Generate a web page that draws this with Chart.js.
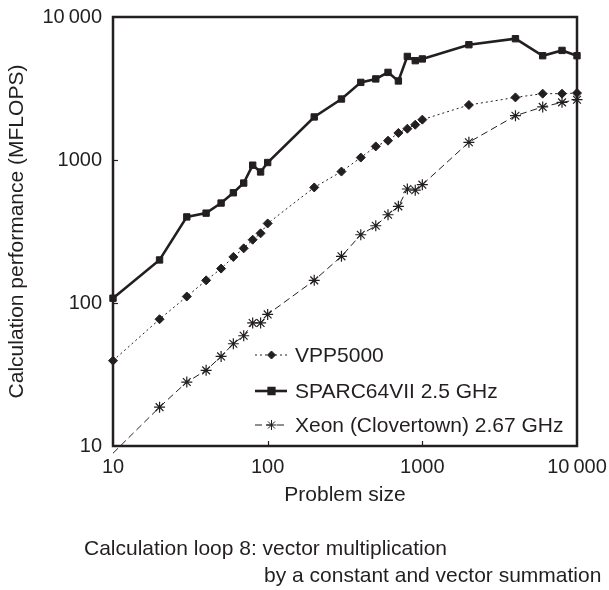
<!DOCTYPE html>
<html>
<head>
<meta charset="utf-8">
<script src="https://cdn.jsdelivr.net/npm/chart.js@4.4.1/dist/chart.umd.min.js"></script>
<style>
  html, body { margin: 0; padding: 0; background: #fff; }
  #wrap { position: relative; width: 609px; height: 590px; font-family: "Liberation Sans", Arial, sans-serif; color: #231f20; }
  #c { position: absolute; left: 0; top: 0; }
  .cap { position: absolute; font-size: 21px; line-height: 24px; white-space: nowrap; }
</style>
</head>
<body>
<div id="wrap">
  <canvas id="c" width="609" height="590"></canvas>
  <div class="cap" style="left:84px; top:536px">Calculation loop 8: vector multiplication</div>
  <div class="cap" style="left:264px; top:563px">by a constant and vector summation</div>
</div>
<script>
const problemSizes = [10, 20, 30, 40, 50, 60, 70, 80, 90, 100, 200, 300, 400, 500, 600, 700, 800, 900, 1000, 2000, 4000, 6000, 8000, 10000];
const vppValues = [39.5, 77, 111, 144, 174, 210, 241, 277, 307, 360, 643, 830, 1040, 1245, 1365, 1545, 1655, 1765, 1915, 2425, 2740, 2910, 2910, 2940];
const sparcValues = [108, 200, 400, 425, 500, 590, 690, 920, 825, 960, 2000, 2670, 3490, 3690, 4100, 3570, 5300, 4950, 5090, 6400, 7050, 5360, 5840, 5360];
const xeonValues = [8.9, 18.7, 28, 33.8, 42.3, 51.9, 59, 72.5, 72.5, 83.2, 144, 212, 300, 347, 414, 474, 627, 615, 672, 1330, 2040, 2350, 2530, 2640];
const xTicks = [10, 100, 1000, 10000];
const yTicks = [10, 100, 1000, 10000];

const ink = '#231f20';
const family = '"Liberation Sans", Arial, sans-serif';
const tickFont = { family, size: 20 };
const titleFont = { family, size: 21 };

function toPoints(values) {
  return problemSizes.map((x, i) => ({ x, y: values[i] }));
}

function fmt(v) {
  return v >= 10000 ? String(v).replace(/(\d)(\d{3})$/, '$1\u2009$2') : String(v);
}

// frame round the plot and short ticks pointing inward
const framePlugin = {
  id: 'frame',
  afterDatasetsDraw(chart) {
    const { ctx, chartArea: a, scales } = chart;
    ctx.save();
    ctx.strokeStyle = ink;
    ctx.lineWidth = 1.2;
    xTicks.slice(1, -1).forEach(v => {
      const px = Math.round(scales.x.getPixelForValue(v)) + 0.5;
      ctx.beginPath(); ctx.moveTo(px, a.bottom); ctx.lineTo(px, a.bottom - 5); ctx.stroke();
    });
    yTicks.slice(1, -1).forEach(v => {
      const py = Math.round(scales.y.getPixelForValue(v)) + 0.5;
      ctx.beginPath(); ctx.moveTo(a.left, py); ctx.lineTo(a.left + 5, py); ctx.stroke();
    });
    ctx.lineWidth = 2.5;
    ctx.strokeRect(a.left, a.top, a.right - a.left, a.bottom - a.top);
    ctx.restore();
  }
};

// legend inside the plot: line sample + marker + label
const legendPlugin = {
  id: 'innerLegend',
  afterDraw(chart) {
    const { ctx } = chart;
    const rows = [355, 391, 425];
    ctx.save();
    chart.data.datasets.forEach((ds, i) => {
      const y = rows[i];
      ctx.strokeStyle = ink;
      ctx.lineWidth = ds.borderWidth;
      ctx.setLineDash(ds.borderDash || []);
      ctx.beginPath(); ctx.moveTo(255, y); ctx.lineTo(287, y); ctx.stroke();
      ctx.setLineDash([]);
      Chart.helpers.drawPoint(ctx, {
        pointStyle: ds.pointStyle, radius: ds.legendRadius, borderWidth: 1.2
      }, 271.5, y);
      ctx.fillStyle = ink;
      ctx.font = '21px ' + family;
      ctx.textBaseline = 'middle';
      ctx.fillText(ds.label, 295, y + 1);
    });
    ctx.restore();
  }
};

const markerRadius = r => c => (c.raw && c.raw.y < 10 ? 0 : r);

new Chart(document.getElementById('c'), {
  type: 'line',
  data: {
    datasets: [
      {
        label: 'VPP5000',
        data: toPoints(vppValues),
        borderColor: ink, backgroundColor: ink,
        borderWidth: 1, borderDash: [2, 3],
        pointStyle: 'rectRot', pointRadius: 4.5, legendRadius: 4,
        pointBorderWidth: 1, clip: false
      },
      {
        label: 'SPARC64VII 2.5 GHz',
        data: toPoints(sparcValues),
        borderColor: ink, backgroundColor: ink,
        borderWidth: 2.6,
        pointStyle: 'rect', pointRadius: 4.5, legendRadius: 4,
        pointBorderWidth: 1, clip: false
      },
      {
        label: 'Xeon (Clovertown) 2.67 GHz',
        data: toPoints(xeonValues),
        borderColor: ink, backgroundColor: ink,
        borderWidth: 1, borderDash: [7, 4],
        pointStyle: 'star', pointRadius: markerRadius(5.5), legendRadius: 5,
        pointBorderWidth: 1.2, clip: false
      }
    ]
  },
  options: {
    responsive: false,
    animation: false,
    layout: { padding: { left: 0, top: 17, right: 32, bottom: 82 } },
    elements: { line: { tension: 0 } },
    plugins: { legend: { display: false }, tooltip: { enabled: false } },
    scales: {
      x: {
        type: 'logarithmic', min: 10, max: 10000,
        afterBuildTicks: s => { s.ticks = xTicks.map(value => ({ value })); },
        afterFit: s => { s.height = 62; },
        grid: { display: false },
        border: { display: false },
        ticks: { color: ink, font: tickFont, padding: 1, maxRotation: 0, autoSkip: false, callback: v => fmt(v) },
        title: { display: true, text: 'Problem size', color: ink, font: titleFont, padding: { top: 4, bottom: 0 } }
      },
      y: {
        type: 'logarithmic', min: 10, max: 10000,
        afterBuildTicks: s => { s.ticks = yTicks.map(value => ({ value })); },
        afterFit: s => { s.width = 113; },
        grid: { display: false },
        border: { display: false },
        ticks: { color: ink, font: tickFont, padding: 3, autoSkip: false, callback: v => fmt(v) },
        title: { display: true, text: 'Calculation performance (MFLOPS)', color: ink, font: titleFont, padding: { top: 5, bottom: 0 } }
      }
    }
  },
  plugins: [framePlugin, legendPlugin]
});
</script>
</body>
</html>
